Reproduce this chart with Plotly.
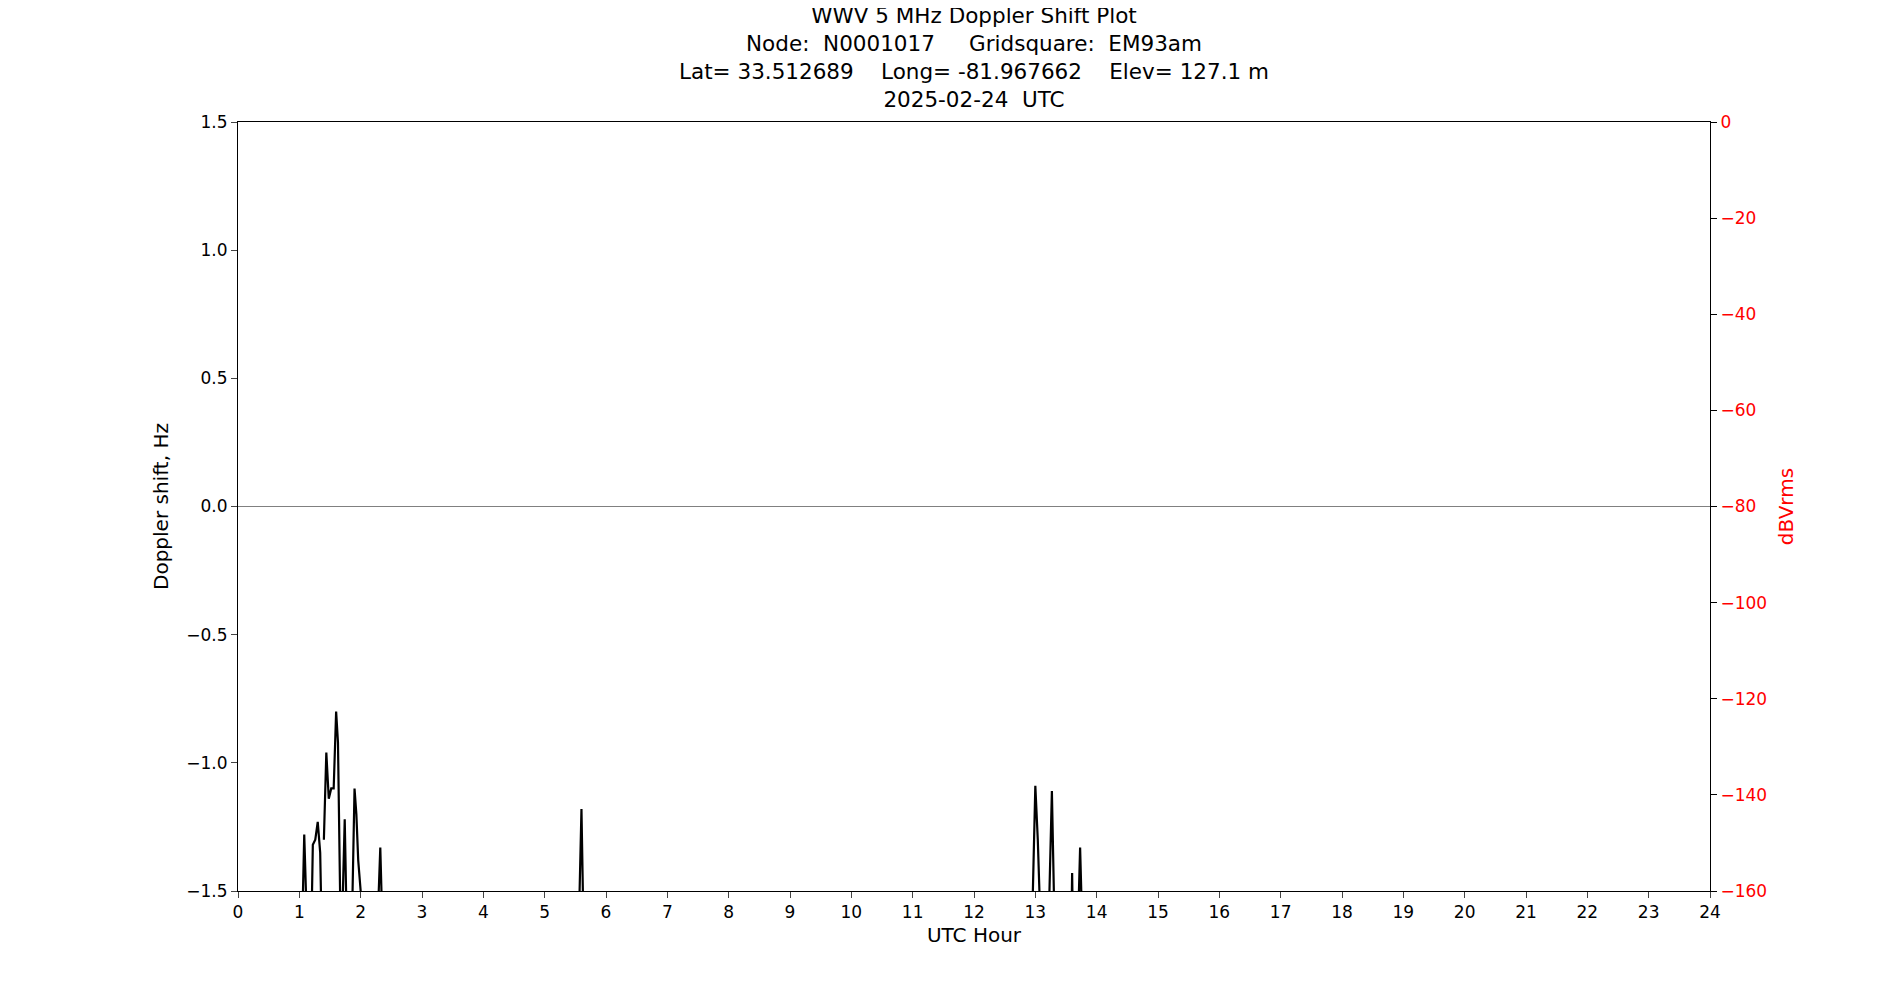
import plotly.graph_objects as go

# Doppler shift trace (None = gap in data)
hours = [1.05, 1.08, 1.12, None,
         1.2, 1.22, 1.26, 1.3, 1.34, 1.36, None,
         1.4, 1.44, 1.48, 1.52, 1.56, 1.6, 1.63, 1.67, None,
         1.7, 1.74, 1.77, None,
         1.86, 1.9, 1.93, 1.96, 2.0, None,
         2.28, 2.32, 2.35, None,
         5.56, 5.6, 5.63, None,
         12.95, 13.0, 13.04, 13.08, None,
         13.22, 13.27, 13.31, None,
         13.59, 13.6, 13.61, None,
         13.7, 13.73, 13.76]
doppler = [-1.6, -1.28, -1.6, None,
           -1.6, -1.32, -1.3, -1.23, -1.35, -1.6, None,
           -1.3, -0.96, -1.14, -1.1, -1.1, -0.8, -0.92, -1.6, None,
           -1.6, -1.22, -1.6, None,
           -1.6, -1.1, -1.2, -1.38, -1.5, None,
           -1.6, -1.33, -1.6, None,
           -1.6, -1.18, -1.6, None,
           -1.6, -1.09, -1.3, -1.6, None,
           -1.6, -1.11, -1.6, None,
           -1.6, -1.43, -1.6, None,
           -1.6, -1.33, -1.6]

title_lines = ["WWV 5 MHz Doppler Shift Plot",
               "Node:  N0001017     Gridsquare:  EM93am",
               "Lat= 33.512689    Long= -81.967662    Elev= 127.1 m",
               "2025-02-24  UTC"]

font = dict(family="DejaVu Sans", size=17, color="black")

fig = go.Figure()
fig.add_trace(go.Scatter(x=hours, y=doppler, mode="lines",
                         line=dict(color="black", width=2.2),
                         connectgaps=False, showlegend=False))
# empty trace so the power axis shows
fig.add_trace(go.Scatter(x=[None], y=[None], yaxis="y2", showlegend=False))

fig.add_hline(y=0, line=dict(color="gray", width=1.2))

fig.update_layout(
    width=1900, height=1000,
    paper_bgcolor="white", plot_bgcolor="white",
    font=font,
    margin=dict(l=230, r=198, t=114, b=117),
    title=dict(text="<br>".join(title_lines), x=0.5, xref="paper", xanchor="center",
               y=0.985, yanchor="top", font=dict(size=21.5)),
    xaxis=dict(range=[0, 24], tickmode="array", tickvals=list(range(25)),
               title=dict(text="UTC Hour", standoff=6),
               showline=True, linecolor="black", mirror=True,
               ticks="outside", ticklen=6, showgrid=False, zeroline=False),
    yaxis=dict(range=[-1.5, 1.5], tickvals=[-1.5, -1.0, -0.5, 0, 0.5, 1.0, 1.5],
               ticktext=["\u22121.5", "\u22121.0", "\u22120.5", "0.0", "0.5", "1.0", "1.5"],
               title=dict(text="Doppler shift, Hz", standoff=12),
               showline=True, linecolor="black",
               ticks="outside", ticklen=6, showgrid=False, zeroline=False),
    yaxis2=dict(range=[-160, 0], overlaying="y", side="right",
                tickvals=list(range(-160, 1, 20)),
                ticktext=[("\u2212" + str(-v)) if v < 0 else "0" for v in range(-160, 1, 20)],
                title=dict(text="dBVrms", font=dict(color="red"), standoff=12),
                tickfont=dict(color="red"),
                showline=True, linecolor="black", tickcolor="black",
                ticks="outside", ticklen=6, showgrid=False, zeroline=False),
)

fig.write_html("out.html")
